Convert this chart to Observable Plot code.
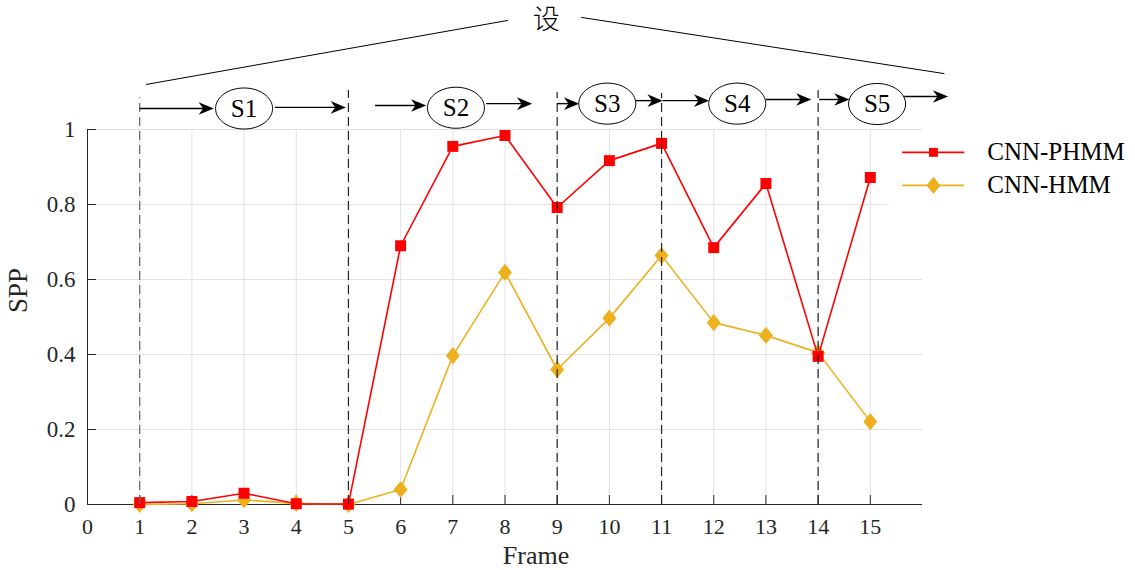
<!DOCTYPE html>
<html><head><meta charset="utf-8">
<script src="https://cdn.jsdelivr.net/npm/d3@7"></script>
<script src="https://cdn.jsdelivr.net/npm/@observablehq/plot@0.6"></script>
<style>
html,body{margin:0;padding:0;background:#fff;}
#chart{width:1135px;height:570px;}
</style></head><body><div id="chart"></div>
<script>
// ---- data ----
const frames = [1,2,3,4,5,6,7,8,9,10,11,12,13,14,15];
const phmm = [0.005,0.008,0.03,0.002,0.001,0.69,0.955,0.984,0.792,0.917,0.963,0.685,0.856,0.395,0.872];
const hmm  = [0.0,0.002,0.012,0.003,0.0,0.04,0.397,0.619,0.36,0.497,0.664,0.485,0.451,0.405,0.221];
const seriesNames = ["CNN-PHMM","CNN-HMM"];
const xTicks = [0,1,2,3,4,5,6,7,8,9,10,11,12,13,14,15];
const yTicks = [0,0.2,0.4,0.6,0.8,1];
const gridX = [1,2,3,4,5,6,7,8,9,10,11,12,13,14,15];
const gridY = [0.2,0.4,0.6,0.8,1];
// stage annotation (in frame / SPP units)
const stageNames = ["S1","S2","S3","S4","S5"];
const stageX = [3.0,7.06,9.96,12.45,15.13];
const stageY = [1.056,1.058,1.069,1.069,1.068];
const boundaryFrames = [1,5,9,11,14];
const boundaryTop = [1.085,1.104,1.099,1.096,1.104];
const arrowX1 = [1.0,3.59,5.51,7.64,9.0,10.51,11.02,13.0,14.02,15.65];
const arrowX2 = [2.42,4.95,6.49,8.52,9.42,11.02,11.91,13.87,14.6,16.49];
const arrowY  = [1.056,1.059,1.064,1.069,1.069,1.077,1.077,1.080,1.080,1.088];
const braceLabel = "设";
const braceX1 = [1.12,9.46], braceY1 = [1.12,1.299];
const braceX2 = [8.06,16.42], braceY2 = [1.291,1.149];
const braceLabelPos = [8.79,1.291];

// ---- styles ----
const RED = "#ff0000", ORANGE = "#edb120";
const serif = "'Liberation Serif','Times New Roman',serif";

const phmmData = frames.map((f,i)=>({x:f,y:phmm[i]}));
const hmmData = frames.map((f,i)=>({x:f,y:hmm[i]}));

const diamond = {draw(ctx,size){const r=Math.sqrt(size/Math.PI);const hw=r*1.17,hh=r*1.42;
  ctx.moveTo(0,-hh);ctx.lineTo(hw,0);ctx.lineTo(0,hh);ctx.lineTo(-hw,0);ctx.closePath();}};
const ellipse = {draw(ctx,size){const r=Math.sqrt(size/Math.PI);const rx=r,ry=r*0.72,k=0.5523;
  ctx.moveTo(rx,0);ctx.bezierCurveTo(rx,ry*k,rx*k,ry,0,ry);ctx.bezierCurveTo(-rx*k,ry,-rx,ry*k,-rx,0);
  ctx.bezierCurveTo(-rx,-ry*k,-rx*k,-ry,0,-ry);ctx.bezierCurveTo(rx*k,-ry,rx,-ry*k,rx,0);ctx.closePath();}};
const arrowHead = {draw(ctx,size){const r=Math.sqrt(size/Math.PI);const L=r*2.3,W=r*0.95;
  ctx.moveTo(0,0);ctx.lineTo(-L,-W);ctx.lineTo(-L*0.7,0);ctx.lineTo(-L,W);ctx.closePath();}};

const idx = n => d3.range(n);
const legendY = [0.939,0.851];
const legendColors = [RED, ORANGE];
const legendSymbols = ["square", diamond];

const plot = Plot.plot({
  width:1135, height:570,
  marginLeft:87, marginRight:213, marginTop:129, marginBottom:66,
  x:{domain:[0,16]}, y:{domain:[0,1]},
  style:{fontFamily:serif, fontSize:"23px", background:"white", color:"#262626", overflow:"visible"},
  marks:[
    Plot.ruleX(gridX,{stroke:"#e2e2e2", strokeWidth:1}),
    Plot.ruleY(gridY,{stroke:"#e2e2e2", strokeWidth:1}),
    // legend background
    Plot.rect([0],{x1:15.36, x2:21, y1:0.785, y2:0.99, fill:"white"}),
    // axes
    Plot.ruleX([0],{stroke:"#262626", strokeWidth:1}),
    Plot.ruleY([0],{stroke:"#262626", strokeWidth:1}),
    Plot.axisX(xTicks,{tickSize:9, dy:-9, tickFormat:()=>"", label:null, stroke:"#262626"}),
    Plot.axisY(yTicks,{tickSize:9, dx:9, tickFormat:()=>"", label:null, stroke:"#262626"}),
    Plot.axisX(xTicks,{tickSize:0, tickPadding:14, label:null, fontSize:22, fill:"#262626", tickFormat:d=>String(d)}),
    Plot.axisY(yTicks,{tickSize:0, tickPadding:12, label:null, fontSize:23, fill:"#262626", tickFormat:d=>String(d)}),
    // data
    Plot.line(hmmData,{x:"x", y:"y", stroke:ORANGE, strokeWidth:1.6}),
    Plot.dot(hmmData,{x:"x", y:"y", symbol:diamond, r:6, fill:ORANGE, stroke:"none"}),
    Plot.line(phmmData,{x:"x", y:"y", stroke:RED, strokeWidth:1.6}),
    Plot.dot(phmmData,{x:"x", y:"y", symbol:"square", r:6.2, fill:RED, stroke:"none"}),
    // stage boundaries
    Plot.ruleX(idx(boundaryFrames.length),{x:i=>boundaryFrames[i], y1:0, y2:i=>boundaryTop[i], stroke:i=>i===0?"#666":"#222", strokeWidth:1.2, strokeDasharray:"9,5"}),
    // arrows
    Plot.link(idx(arrowX1.length),{x1:i=>arrowX1[i], x2:i=>arrowX2[i]-0.1, y1:i=>arrowY[i], y2:i=>arrowY[i], stroke:"black", strokeWidth:1.4}),
    Plot.dot(idx(arrowX1.length),{x:i=>arrowX2[i], y:i=>arrowY[i], symbol:arrowHead, r:6.6, fill:"black", stroke:"none"}),
    // stage ellipses
    Plot.dot(idx(stageNames.length),{x:i=>stageX[i], y:i=>stageY[i], symbol:ellipse, r:28.5, fill:"white", stroke:"black", strokeWidth:1}),
    Plot.text(idx(stageNames.length),{x:i=>stageX[i], y:i=>stageY[i], text:i=>stageNames[i], fontSize:25, fill:"black", fontFamily:serif}),
    // brace
    Plot.link(idx(2),{x1:i=>braceX1[i], y1:i=>braceY1[i], x2:i=>braceX2[i], y2:i=>braceY2[i], stroke:"black", strokeWidth:1}),
    Plot.text([braceLabel],{x:braceLabelPos[0], y:braceLabelPos[1], text:d=>d, fontSize:27, fill:"black", fontFamily:"'Noto Sans CJK SC',sans-serif", fontWeight:300}),
    // legend
    Plot.link(idx(2),{x1:15.61, x2:16.80, y1:i=>legendY[i], y2:i=>legendY[i], stroke:i=>legendColors[i], strokeWidth:1.6}),
    Plot.dot([0],{x:16.21, y:legendY[0], symbol:legendSymbols[0], r:5, fill:legendColors[0], stroke:"none"}),
    Plot.dot([1],{x:16.21, y:legendY[1], symbol:legendSymbols[1], r:6, fill:legendColors[1], stroke:"none"}),
    Plot.text(idx(2),{x:17.24, y:i=>legendY[i], text:i=>seriesNames[i], textAnchor:"start", fontSize:25, fill:"black", fontFamily:serif}),
    // axis titles
    Plot.text(["Frame"],{text:d=>d, frameAnchor:"bottom", dx:31, dy:41, fontSize:26, lineAnchor:"top", fill:"#262626", fontFamily:serif}),
    Plot.text(["SPP"],{text:d=>d, frameAnchor:"left", rotate:-90, dx:-69, dy:-4, fontSize:27, fill:"#262626", fontFamily:serif})
  ]
});
document.getElementById("chart").appendChild(plot);
</script></body></html>
